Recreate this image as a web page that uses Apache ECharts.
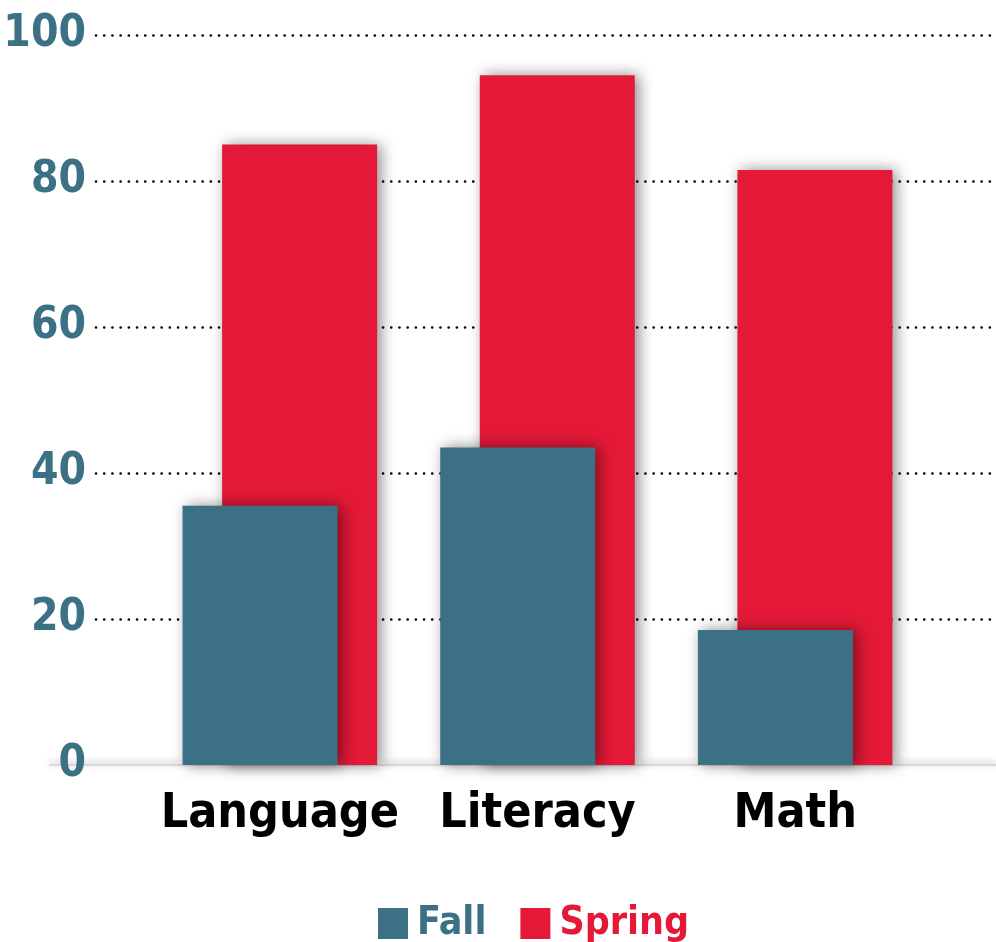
<!DOCTYPE html>
<html>
<head>
<meta charset="utf-8">
<script src="https://cdn.jsdelivr.net/npm/echarts@6/dist/echarts.min.js"></script>
<style>
  html, body { margin: 0; padding: 0; background: #fff; }
  #chart { width: 996px; height: 942px; }
</style>
</head>
<body>
<div id="chart"></div>
<script>
var categories = ['Language', 'Literacy', 'Math'];
var fallValues = [35.5, 43.5, 18.5];
var springValues = [85, 94.5, 81.5];
var yTicks = [0, 20, 40, 60, 80, 100];

var blue = '#3b7085';
var red = '#e31937';
var font = '"Liberation Sans Narrow", "DejaVu Sans Condensed", sans-serif';

var myChart = echarts.init(document.getElementById('chart'));

var option = {
  backgroundColor: '#fff',
  animation: false,
  legend: {
    left: 373,
    top: 899,
    itemWidth: 30,
    itemHeight: 31,
    itemGap: 34,
    icon: 'rect',
    data: [
      { name: 'Fall', textStyle: { color: blue } },
      { name: 'Spring', textStyle: { color: red } }
    ],
    textStyle: { fontFamily: font, fontWeight: 'bold', fontSize: 39, padding: [0, 0, 0, 4] }
  },
  grid: [
    // gridlines + y labels
    { left: 96, right: 6, top: 35, bottom: 177, outerBoundsMode: 'none' },
    // bars
    { left: 151, right: 72, top: 35, bottom: 177, outerBoundsMode: 'none' },
    // baseline
    { left: 50, right: 0, top: 35, bottom: 177, outerBoundsMode: 'none' }
  ],
  xAxis: [
    { gridIndex: 0, type: 'value', show: false },
    {
      gridIndex: 1,
      type: 'category',
      data: categories,
      axisLine: { show: false },
      axisTick: { show: false },
      axisLabel: {
        interval: 0,
        margin: 26,
        color: '#000',
        fontFamily: font,
        fontWeight: 'bold',
        fontSize: 48
      }
    },
    {
      gridIndex: 2,
      type: 'value',
      axisLine: {
        show: true,
        lineStyle: { color: '#d8d8d8', width: 2, shadowBlur: 6, shadowColor: 'rgba(0,0,0,0.3)', shadowOffsetY: -2 }
      },
      axisTick: { show: false },
      axisLabel: { show: false },
      splitLine: { show: false }
    }
  ],
  yAxis: [
    {
      gridIndex: 0,
      type: 'value',
      min: yTicks[0],
      max: yTicks[yTicks.length - 1],
      interval: 20,
      axisLine: { show: false },
      axisTick: { show: false },
      axisLabel: {
        margin: 10,
        color: blue,
        fontFamily: font,
        fontWeight: 'bold',
        fontSize: 44
      },
      splitLine: {
        show: true,
        showMinLine: false,
        lineStyle: { color: '#000', width: 2.6, cap: 'round', type: [0.1, 8.1] }
      }
    },
    {
      gridIndex: 1,
      type: 'value',
      min: 0,
      max: 100,
      show: false
    },
    { gridIndex: 2, type: 'value', min: 0, max: 100, show: false }
  ],
  series: [
    {
      name: 'Fall',
      type: 'bar',
      xAxisIndex: 1,
      yAxisIndex: 1,
      data: fallValues,
      barWidth: 155,
      barGap: '-74.5%',
      z: 4,
      itemStyle: {
        color: blue,
        shadowBlur: 14,
        shadowColor: 'rgba(0,0,0,0.45)',
        shadowOffsetX: 4
      }
    },
    {
      name: 'Spring',
      type: 'bar',
      xAxisIndex: 1,
      yAxisIndex: 1,
      data: springValues,
      barWidth: 155,
      z: 3,
      itemStyle: {
        color: red,
        shadowBlur: 14,
        shadowColor: 'rgba(0,0,0,0.45)',
        shadowOffsetX: 4
      }
    }
  ]
};

myChart.setOption(option);
</script>
</body>
</html>
